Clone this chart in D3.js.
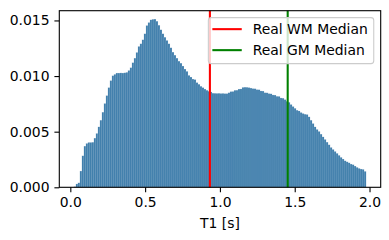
<!DOCTYPE html>
<html>
<head>
<meta charset="utf-8">
<script src="https://d3js.org/d3.v7.min.js"></script>
<style>
  body { margin: 0; background: #fff; }
  svg text { font-family: "DejaVu Sans", sans-serif; fill: #000; }
</style>
</head>
<body>
<div id="chart"></div>
<script>
// histogram bins (T1 in seconds)
const binStart = 0.024;
const binWidth = 0.013377;
const heights = [
  0.00005, 0.0003, 0.0004, 0.00146, 0.00283, 0.0037, 0.00394, 0.00403, 0.00403, 0.00405,
  0.00442, 0.00484, 0.00543, 0.00603, 0.00675, 0.00753, 0.00824, 0.00896, 0.00959, 0.01003,
  0.01015, 0.01027, 0.01027, 0.01028, 0.01027, 0.01029, 0.01033, 0.0105, 0.01075, 0.0112,
  0.01161, 0.01212, 0.01266, 0.0129, 0.01326, 0.0138, 0.01454, 0.01481, 0.01505, 0.0151,
  0.01512, 0.01493, 0.01457, 0.01416, 0.0138, 0.01349, 0.0132, 0.0129, 0.01254, 0.01215,
  0.01188, 0.01161, 0.01134, 0.01116, 0.0109, 0.01063, 0.01042, 0.01006, 0.00991, 0.00973,
  0.00968, 0.00941, 0.00926, 0.00908, 0.00896, 0.00883, 0.00872, 0.00863, 0.00857, 0.00846,
  0.00845, 0.00844, 0.00845, 0.00843, 0.00844, 0.00842, 0.00842, 0.0085, 0.0086, 0.00861,
  0.00872, 0.00873, 0.00883, 0.00884, 0.00898, 0.009, 0.00899, 0.00896, 0.00892, 0.00887,
  0.00886, 0.00878, 0.00877, 0.00866, 0.00865, 0.0085, 0.00849, 0.00842, 0.0084, 0.0083,
  0.00829, 0.00818, 0.00817, 0.00803, 0.00801, 0.00788, 0.00773, 0.00764, 0.00744, 0.00726,
  0.0071, 0.00693, 0.00686, 0.00672, 0.00663, 0.00657, 0.00654, 0.00633, 0.00603, 0.00573,
  0.00543, 0.0052, 0.00502, 0.00478, 0.00453, 0.0043, 0.00406, 0.00382, 0.00358, 0.0034,
  0.00322, 0.00305, 0.00287, 0.00269, 0.00254, 0.00238, 0.00229, 0.0022, 0.00209, 0.00203,
  0.00191, 0.00179, 0.0017, 0.00164, 0.00161, 0.00143
];

// median lines
const medianNames = ["Real WM Median", "Real GM Median"];
const medianValues = [0.933, 1.453];
const medianColors = ["red", "green"];

const xTicks = [0.0, 0.5, 1.0, 1.5, 2.0];
const yTicks = [0.000, 0.005, 0.010, 0.015];
const xLabel = "T1 [s]";

const W = 389, H = 240;
const margin = { top: 10.7, right: 8.3, bottom: 52.7, left: 59.3 };
const width = W - margin.left - margin.right,
      height = H - margin.top - margin.bottom;
const fs = 13.9;

const svg = d3.select("#chart").append("svg")
    .attr("width", W).attr("height", H);
const g = svg.append("g")
    .attr("transform", `translate(${margin.left},${margin.top})`);

// matplotlib style 5% margins on x
const binEnd = binStart + heights.length * binWidth;
const pad = 0.05 * (binEnd - binStart);
const x = d3.scaleLinear().domain([binStart - pad, binEnd + pad]).range([0, width]);
const y = d3.scaleLinear().domain([0, d3.max(heights) * 1.05]).range([height, 0]);

// bars
g.selectAll(".bar")
    .data(heights)
    .join("rect")
    .attr("class", "bar")
    .attr("x", (d, i) => x(binStart + i * binWidth))
    .attr("width", x(binStart + binWidth) - x(binStart))
    .attr("y", d => y(d))
    .attr("height", d => y(0) - y(d))
    .attr("fill", "#3f7eac")
    .attr("stroke", "#cfdde8")
    .attr("stroke-opacity", 0.5)
    .attr("stroke-width", 0.25);

// median lines
g.selectAll(".median")
    .data(medianValues)
    .join("line")
    .attr("x1", d => x(d)).attr("x2", d => x(d))
    .attr("y1", 0).attr("y2", height)
    .attr("stroke", (d, i) => medianColors[i])
    .attr("stroke-width", 2.08);

// axes
const xAxis = g.append("g")
    .attr("transform", `translate(0,${height})`)
    .call(d3.axisBottom(x).tickValues(xTicks).tickFormat(d3.format(".1f"))
        .tickSizeOuter(0).tickSize(4.9).tickPadding(4.9));
const yAxis = g.append("g")
    .call(d3.axisLeft(y).tickValues(yTicks).tickFormat(d3.format(".3f"))
        .tickSizeOuter(0).tickSize(4.9).tickPadding(4.9));
[xAxis, yAxis].forEach(a => {
  a.select(".domain").remove();
  a.selectAll("line").attr("stroke", "#000").attr("stroke-width", 1.1);
  a.selectAll("text").style("font-size", fs + "px").attr("fill", "#000");
});

// frame
g.append("rect")
    .attr("width", width).attr("height", height)
    .attr("fill", "none").attr("stroke", "#000").attr("stroke-width", 1.1);

// x label
g.append("text")
    .attr("x", width / 2).attr("y", height + 40.5)
    .attr("text-anchor", "middle")
    .style("font-size", fs + "px")
    .text(xLabel);

// legend
const legW = 165.4, legH = 46;
const leg = g.append("g")
    .attr("transform", `translate(${width - 0.5 * fs - legW},${0.5 * fs})`);
leg.append("rect")
    .attr("width", legW).attr("height", legH)
    .attr("rx", 2.8).attr("ry", 2.8)
    .attr("fill", "#fff").attr("fill-opacity", 0.8)
    .attr("stroke", "#cccccc").attr("stroke-width", 1.1);
medianNames.forEach((name, i) => {
  const cy = 11.5 + i * 21;
  leg.append("line")
      .attr("x1", 4).attr("x2", 33.4)
      .attr("y1", cy).attr("y2", cy)
      .attr("stroke", medianColors[i]).attr("stroke-width", 2.08);
  leg.append("text")
      .attr("x", 44.4).attr("y", cy + 5)
      .style("font-size", fs + "px")
      .text(name);
});
</script>
</body>
</html>
